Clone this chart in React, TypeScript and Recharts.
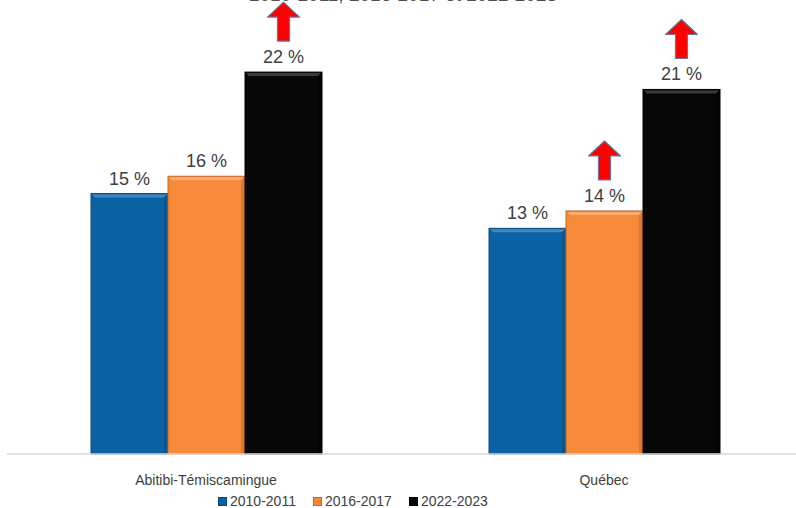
import React from "react";
import { BarChart, Bar, XAxis, YAxis, LabelList, Legend } from "recharts";

const regions = ["Abitibi-Témiscamingue", "Québec"];
const s2010 = [15, 13];
const s2016 = [16, 14];
const s2022 = [22, 21];
const seriesNames = ["2010-2011", "2016-2017", "2022-2023"];
const arrows2016 = [false, true];
const arrows2022 = [true, true];
const title = "2010-2011, 2016-2017 et 2022-2023";

const data = regions.map((r, i) => ({
  region: r,
  a: s2010[i],
  b: s2016[i],
  c: s2022[i],
}));

const palette = [
  { base: "#0A62A2", light: "#3F88C4", dark: "#074A7C" },
  { base: "#F68A3A", light: "#F9AC72", dark: "#C8661E" },
  { base: "#070707", light: "#3A3A3A", dark: "#000000" },
];

const FONT = "'Liberation Sans', Arial, sans-serif";

const makeShape = (p: { base: string; light: string; dark: string }) => (props: any) => {
  const { x, y, width: w, height: h } = props;
  if (!w || !h) return null;
  const b = 4;
  return (
    <g>
      <rect x={x} y={y} width={w} height={h} fill={p.base} stroke={p.dark} strokeWidth={1} />
      <polygon
        points={`${x + 1},${y + 1} ${x + w - 1},${y + 1} ${x + w - b},${y + b} ${x + b},${y + b}`}
        fill={p.light}
      />
      <polygon
        points={`${x + w - 1},${y + 1} ${x + w - 1},${y + h} ${x + w - b},${y + h} ${x + w - b},${y + b}`}
        fill={p.dark}
        opacity={0.5}
      />
    </g>
  );
};

const makeArrow = (flags: boolean[]) => (props: any) => {
  const { x, y, width, index } = props;
  if (!flags[index]) return null;
  const cx = x + width / 2;
  const bottom = y - 31;
  const tip = y - 70;
  const headBase = tip + 15;
  const hw = 16;
  const sw = 6;
  const pts = [
    [cx, tip],
    [cx + hw, headBase],
    [cx + sw, headBase],
    [cx + sw, bottom],
    [cx - sw, bottom],
    [cx - sw, headBase],
    [cx - hw, headBase],
  ]
    .map((q) => q.join(","))
    .join(" ");
  return <polygon points={pts} fill="#FF0000" stroke="#6A7398" strokeWidth={1.2} strokeLinejoin="round" />;
};

const LegendContent = () => (
  <div style={{ height: 24, paddingLeft: 211, fontFamily: FONT, fontSize: 14, color: "#404040", display: "flex", alignItems: "flex-start" }}>
    {seriesNames.map((n, i) => (
      <div key={n} style={{ display: "flex", alignItems: "center", marginTop: 10, marginRight: 17 }}>
        <div style={{ width: 9, height: 9, background: palette[i].base, border: `1px solid ${palette[i].dark}`, boxSizing: "border-box", marginRight: 3 }} />
        <span style={{ lineHeight: "14px" }}>{n}</span>
      </div>
    ))}
  </div>
);

const fmt = (v: any) => `${v} %`;

export default function App() {
  return (
    <div style={{ position: "absolute", left: 0, top: 0, width: 796, height: 508, overflow: "hidden", background: "#fff" }}>
      <div
        style={{
          position: "absolute",
          top: -14,
          left: 0,
          width: 806,
          textAlign: "center",
          fontFamily: FONT,
          fontSize: 19,
          lineHeight: "18px",
          color: "#505050",
          whiteSpace: "nowrap",
        }}
      >
        {title}
      </div>
      <BarChart
        width={810}
        height={508}
        data={data}
        margin={{ top: 20, right: 7, bottom: 0, left: 7 }}
        barCategoryGap={84}
        barGap={0}
      >
        <XAxis
          dataKey="region"
          height={30}
          axisLine={{ stroke: "#D9D9D9", strokeWidth: 1.5 }}
          tickLine={false}
          tickMargin={15}
          tick={{ fontSize: 14, fill: "#404040", fontFamily: FONT }}
        />
        <YAxis hide domain={[0, 25]} />
        <Legend verticalAlign="bottom" height={24} content={<LegendContent />} />
        <Bar dataKey="a" name={seriesNames[0]} fill={palette[0].base} isAnimationActive={false} shape={makeShape(palette[0])}>
          <LabelList dataKey="a" position="top" offset={9} formatter={fmt} style={{ fontSize: 18, fill: "#404040", fontFamily: FONT }} />
        </Bar>
        <Bar dataKey="b" name={seriesNames[1]} fill={palette[1].base} isAnimationActive={false} shape={makeShape(palette[1])}>
          <LabelList dataKey="b" position="top" offset={9} formatter={fmt} style={{ fontSize: 18, fill: "#404040", fontFamily: FONT }} />
          <LabelList dataKey="b" content={makeArrow(arrows2016)} />
        </Bar>
        <Bar dataKey="c" name={seriesNames[2]} fill={palette[2].base} isAnimationActive={false} shape={makeShape(palette[2])}>
          <LabelList dataKey="c" position="top" offset={9} formatter={fmt} style={{ fontSize: 18, fill: "#404040", fontFamily: FONT }} />
          <LabelList dataKey="c" content={makeArrow(arrows2022)} />
        </Bar>
      </BarChart>
    </div>
  );
}
